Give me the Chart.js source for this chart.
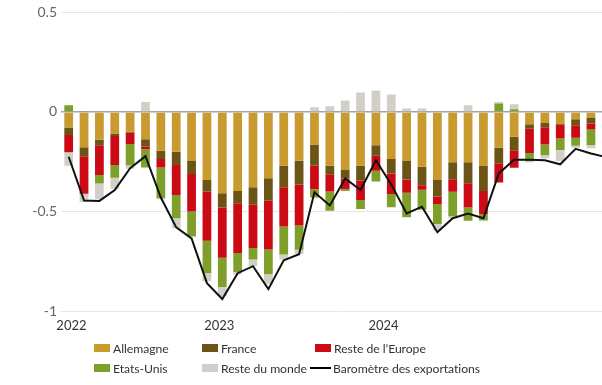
<!DOCTYPE html>
<html><head><meta charset="utf-8">
<script src="https://cdn.jsdelivr.net/npm/chart.js@4/dist/chart.umd.min.js"></script>
<style>
html,body{margin:0;padding:0;background:#fff;overflow:hidden;width:602px;height:385px;}
#wrap{position:absolute;left:0;top:0;width:614px;height:345px;}
.leg{position:absolute;display:flex;align-items:center;height:16px;font-family:Lato, sans-serif;font-size:12.2px;letter-spacing:-0.05px;color:#333;white-space:nowrap;}
.box{width:16px;height:8px;margin-right:3px;}
.ln{width:21px;height:2px;background:#000;margin-right:2px;}
</style></head>
<body>
<div id="wrap"><canvas id="c" width="614" height="345"></canvas></div>
<div id="legend"></div>
<script>
const categories = ['2022-01','2022-02','2022-03','2022-04','2022-05','2022-06','2022-07','2022-08','2022-09','2022-10','2022-11','2022-12',
  '2023-01','2023-02','2023-03','2023-04','2023-05','2023-06','2023-07','2023-08','2023-09','2023-10','2023-11','2023-12',
  '2024-01','2024-02','2024-03','2024-04','2024-05','2024-06','2024-07','2024-08','2024-09','2024-10','2024-11','2024-12'];
const yearLabels = ['2022','2023','2024'];
const seriesNames = ['Allemagne','France',"Reste de l’Europe",'Etats-Unis','Reste du monde','Baromètre des exportations'];

const allemagne = [-0.078,-0.178,-0.14,-0.108,-0.1,-0.137,-0.195,-0.2,-0.247,-0.342,-0.408,-0.397,
  -0.378,-0.333,-0.27,-0.245,-0.163,-0.27,-0.292,-0.27,-0.167,-0.237,-0.247,-0.275,
  -0.342,-0.253,-0.253,-0.272,-0.18,-0.125,-0.062,-0.055,-0.06,-0.037,-0.03,null];
const france = [-0.038,-0.045,-0.027,-0.013,-0.003,-0.037,-0.042,-0.067,-0.065,-0.058,-0.072,-0.062,
  -0.088,-0.113,-0.108,-0.12,-0.107,-0.043,-0.042,-0.075,-0.053,-0.072,-0.092,-0.093,
  -0.083,-0.085,-0.105,-0.125,-0.078,-0.067,-0.022,-0.022,-0.005,-0.03,-0.028,null];
const resteEurope = [-0.087,-0.188,-0.15,-0.145,-0.058,-0.013,-0.042,-0.15,-0.188,-0.247,-0.253,-0.25,
  -0.217,-0.245,-0.198,-0.205,-0.118,-0.087,-0.055,-0.097,-0.075,-0.103,-0.067,-0.023,
  -0.038,-0.063,-0.122,-0.117,-0.097,-0.088,-0.122,-0.087,-0.068,-0.063,-0.03,null];
const etatsUnis = [0.033,0.005,-0.042,-0.065,-0.108,-0.092,-0.155,-0.117,-0.125,-0.162,-0.147,-0.095,
  -0.058,-0.125,-0.14,-0.122,-0.042,-0.097,-0.008,-0.045,-0.055,-0.067,-0.123,-0.1,
  -0.1,-0.123,-0.067,-0.03,0.042,0.013,-0.042,-0.053,-0.058,-0.04,-0.078,null];
const resteMonde = [-0.067,-0.042,-0.078,-0.055,-0.017,0.05,-0.005,-0.05,-0.005,-0.042,-0.045,-0.013,
  -0.033,-0.047,-0.025,-0.022,0.023,0.028,0.058,0.097,0.108,0.087,0.017,0.017,
  -0.033,-0.01,0.033,-0.005,0.008,0.025,-0.005,-0.017,-0.055,-0.01,-0.017,null];
const barometre = [-0.225,-0.445,-0.447,-0.392,-0.283,-0.222,-0.43,-0.58,-0.635,-0.86,-0.94,-0.81,
  -0.775,-0.89,-0.745,-0.715,-0.404,-0.47,-0.334,-0.392,-0.243,-0.364,-0.51,-0.476,
  -0.604,-0.534,-0.51,-0.534,-0.309,-0.24,-0.24,-0.243,-0.263,-0.185,-0.209,-0.227];

const yearTickIndex = [0.18, 9.8, 20.5];
const colors = ['#C99A2E','#6B5416','#CC0A16','#7F9F2B','#D2D0C6','#000000'];

const barSeries = [allemagne, france, resteEurope, etatsUnis, resteMonde];
const datasets = barSeries.map((d,i)=>({
  type:'bar', label:seriesNames[i], data:d, backgroundColor:colors[i],
  stack:'bars', order:1, barPercentage:0.57, categoryPercentage:1.0, borderWidth:0
}));
datasets.push({type:'line', label:seriesNames[5], data:barometre, borderColor:'#111', borderWidth:2,
  pointRadius:0, tension:0, fill:false, stack:'line', order:0});

new Chart(document.getElementById('c'), {
  data:{labels:categories, datasets},
  options:{
    responsive:false, animation:false, devicePixelRatio:1,
    layout:{padding:{top:10,right:0,bottom:0,left:0}},
    plugins:{legend:{display:false}, tooltip:{enabled:false}},
    scales:{
      x:{type:'category', stacked:true, display:false, offset:true},
      x2:{type:'linear', position:'bottom', min:-0.5, max:35.5,
        grid:{display:false, drawTicks:false}, border:{display:false},
        afterBuildTicks:(ax)=>{ax.ticks = yearTickIndex.map(v=>({value:v}));},
        afterFit:(ax)=>{ax.height = 34;},
        ticks:{autoSkip:false, maxRotation:0, padding:7, color:'#333',
          font:{family:'Lato', size:13},
          callback:(v,i)=>yearLabels[i]}
      },
      y:{stacked:true, min:-1, max:0.5,
        afterFit:(ax)=>{ax.width = 61;},
        border:{display:false},
        grid:{drawTicks:false,
          color:(c)=>c.tick && c.tick.value===0 ? '#a3a3a3' : '#e6e6e6',
          lineWidth:(c)=>c.tick && c.tick.value===0 ? 1.6 : 1},
        ticks:{stepSize:0.5, padding:4, color:'#666', font:{family:'Lato', size:14},
          callback:(v)=>String(v)}
      }
    }
  }
});

// HTML legend
const legendPos = [[94,340],[202,340],[315,340],[94,360],[202,360],[310,360]];
const leg = document.getElementById('legend');
seriesNames.forEach((name,i)=>{
  const d = document.createElement('div');
  d.className='leg';
  d.style.left = legendPos[i][0]+'px';
  d.style.top = legendPos[i][1]+'px';
  const m = document.createElement('span');
  if(i===5){ m.className='ln'; } else { m.className='box'; m.style.background=colors[i]; }
  d.appendChild(m);
  const t = document.createElement('span'); t.textContent=name; d.appendChild(t);
  leg.appendChild(d);
});
</script>
</body></html>
